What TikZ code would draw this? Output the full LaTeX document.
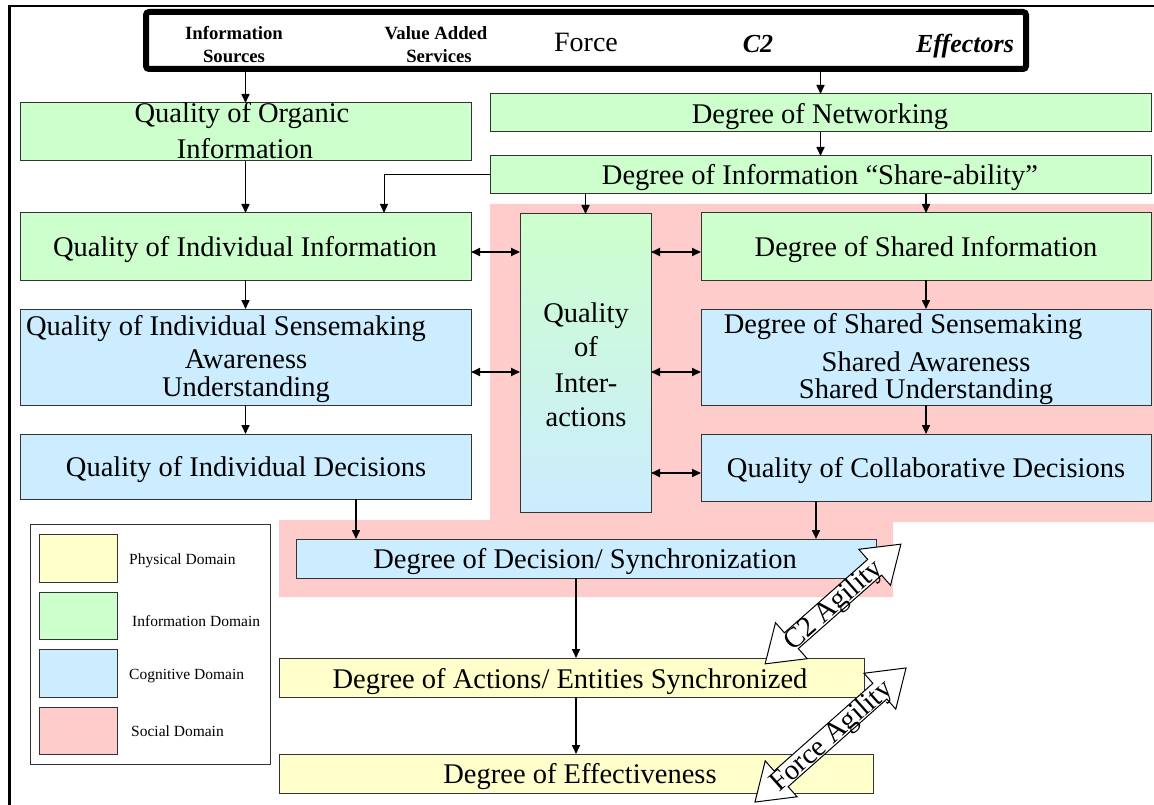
\documentclass[tikz,border=0pt]{standalone}
\usepackage{fontspec}
\setmainfont{Liberation Serif}[BoldFont={Liberation Serif Bold}, ItalicFont={Liberation Serif Italic}, BoldItalicFont={Liberation Serif Bold Italic}]
\usetikzlibrary{arrows.meta}
\definecolor{pgreen}{HTML}{CCFFCC}
\definecolor{pblue}{HTML}{CCECFF}
\definecolor{pyellow}{HTML}{FFFFCC}
\definecolor{ppink}{HTML}{FFCCCC}
\newcommand\bigf{\fontsize{28.5}{34}\selectfont}
\newcommand\legf{\fontsize{15.5}{18}\selectfont}
\newcommand\hdrf{\fontsize{18.7}{22}\selectfont\bfseries}
\tikzset{
  box/.style={draw=black!80, line width=1pt, inner sep=0pt, outer sep=0pt, anchor=north west},
  txt/.style={font=\bigf, inner sep=0pt, anchor=base},
  hdr/.style={font=\hdrf, inner sep=0pt, anchor=base},
  legtxt/.style={font=\legf, inner sep=0pt, anchor=base west},
  arr/.style={line width=1.6pt, -{Triangle[length=9pt,width=8pt]}},
  thinarr/.style={line width=1pt, -{Triangle[length=9pt,width=8pt]}},
  darr/.style={line width=1.8pt, {Triangle[length=9pt,width=8pt]}-{Triangle[length=9pt,width=8pt]}},
  agil/.style={draw=black, line width=1pt, fill=white, line join=miter},
}
\begin{document}
\begin{tikzpicture}[x=1pt,y=-1pt]
\useasboundingbox (0,0) rectangle (1154,805);
% outer frame (top and left sides)
\draw[line width=2.5pt] (8,6) -- (1154,6);
\draw[line width=3pt] (9.5,4.8) -- (9.5,805);
% social domain region
\fill[ppink] (490,204) -- (1154,204) -- (1154,522) -- (893,522) -- (893,597)
  -- (279,597) -- (279,520) -- (490,520) -- cycle;
% top bar
\node[draw=black, line width=6pt, rounded corners=3pt, inner sep=0pt, outer sep=0pt,
  anchor=north west, minimum width=880pt, minimum height=57pt] (bar) at (146,12) {};
\node[hdr] (is1) at (234,40) {Information};
\node[hdr] (is2) at (234,63) {Sources};
\node[hdr] (va1) at (436,40) {Value Added};
\node[hdr] (va2) at (439,63) {Services};
\node[txt, font=\fontsize{28}{32}\selectfont] (force) at (586,52) {Force};
\node[hdr, font=\fontsize{26}{30}\selectfont\bfseries\itshape] (c2) at (758,53) {C2};
\node[hdr, font=\fontsize{26}{30}\selectfont\bfseries\itshape] (eff) at (965,53) {Effectors};
% boxes
\node[box, fill=pgreen, minimum width=451pt, minimum height=58pt] (organic) at (20,103) {};
\node[box, fill=pgreen, minimum width=661pt, minimum height=38pt] (net) at (490,94) {};
\node[box, fill=pgreen, minimum width=661pt, minimum height=38pt] (share) at (490,156) {};
\node[box, fill=pgreen, minimum width=451pt, minimum height=67pt] (indinfo) at (20,213) {};
\node[box, fill=pblue, minimum width=451pt, minimum height=96pt] (sense) at (20,309) {};
\node[box, fill=pblue, minimum width=451pt, minimum height=65pt] (inddec) at (20,434) {};
\node[box, top color=pgreen, bottom color=pblue, minimum width=131pt, minimum height=298pt] (inter) at (520,214) {};
\node[box, fill=pgreen, minimum width=450pt, minimum height=67pt] (shinfo) at (701,213) {};
\node[box, fill=pblue, minimum width=450pt, minimum height=96pt] (shsense) at (701,309) {};
\node[box, fill=pblue, minimum width=450pt, minimum height=67pt] (collab) at (701,434) {};
\node[box, fill=pblue, minimum width=580pt, minimum height=39pt] (decision) at (296,539) {};
\node[box, fill=pyellow, minimum width=585pt, minimum height=39pt] (actions) at (279,658) {};
\node[box, fill=pyellow, minimum width=594pt, minimum height=39pt] (effect) at (279,754) {};
% box texts
\node[txt] (t1a) at (242,123) {Quality of Organic};
\node[txt] (t1b) at (245,159) {Information};
\node[txt] (t2) at (820,124) {Degree of Networking};
\node[txt] (t3) at (820,185) {Degree of Information “Share-ability”};
\node[txt] (t4) at (245,257) {Quality of Individual Information};
\node[txt] (t5a) at (226,335) {Quality of Individual Sensemaking};
\node[txt] (t5b) at (246,368) {Awareness};
\node[txt] (t5c) at (246,396) {Understanding};
\node[txt] (t6) at (246,476) {Quality of Individual Decisions};
\node[txt] (t7a) at (586,322) {Quality};
\node[txt] (t7b) at (586,356) {of};
\node[txt] (t7c) at (586,392) {Inter-};
\node[txt] (t7d) at (586,426) {actions};
\node[txt] (t8) at (926,257) {Degree of Shared Information};
\node[txt] (t9a) at (903,333) {Degree of Shared Sensemaking};
\node[txt] (t9b) at (926,371) {Shared Awareness};
\node[txt] (t9c) at (926,398) {Shared Understanding};
\node[txt] (t10) at (926,477) {Quality of Collaborative Decisions};
\node[txt] (t11) at (585,568) {Degree of Decision/ Synchronization};
\node[txt] (t12) at (570,688) {Degree of Actions/ Entities Synchronized};
\node[txt] (t13) at (580,783) {Degree of Effectiveness};
% legend
\node[box, fill=white, draw=black!80, minimum width=240pt, minimum height=240pt] (legend) at (30,524) {};
\node[box, fill=pyellow, minimum width=78pt, minimum height=48pt] (lg1) at (39,534) {};
\node[box, fill=pgreen, minimum width=78pt, minimum height=47pt] (lg2) at (39,592) {};
\node[box, fill=pblue, minimum width=78pt, minimum height=48pt] (lg3) at (39,649) {};
\node[box, fill=ppink, minimum width=78pt, minimum height=47pt] (lg4) at (39,707) {};
\node[legtxt] (l1) at (129,564) {Physical Domain};
\node[legtxt] (l2) at (132,626) {Information Domain};
\node[legtxt] (l3) at (129,679) {Cognitive Domain};
\node[legtxt] (l4) at (131,736) {Social Domain};
% helper coordinates
\coordinate (bendA) at (384,213);
\coordinate (d1) at (356,539);
\coordinate (d2) at (816,539);
\coordinate (a1) at (576,658);
\coordinate (r1) at (0,252);
\coordinate (r2) at (0,372);
\coordinate (r3) at (0,473);
% connectors
\draw[arr] (bar.south -| organic.north) -- (organic.north);
\draw[arr] (bar.south -| net.north) -- (net.north);
\draw[arr] (net.south) -- (share.north);
\draw[thinarr] (share.west) -| (bendA);
\draw[arr] (organic.south -| indinfo.north) -- (indinfo.north);
\draw[arr] (share.south -| inter.north) -- (inter.north);
\draw[arr] (share.south -| shinfo.north) -- (shinfo.north);
\draw[arr] (indinfo.south) -- (sense.north);
\draw[arr] (sense.south) -- (inddec.north);
\draw[arr] (shinfo.south) -- (shsense.north);
\draw[arr] (shsense.south) -- (collab.north);
\draw[arr] (inddec.south -| d1) -- (d1);
\draw[arr] (collab.south -| d2) -- (d2);
\draw[arr] (decision.south -| a1) -- (a1);
\draw[arr] (actions.south -| a1) -- (effect.north -| a1);
\draw[darr] (indinfo.east |- r1) -- (inter.west |- r1);
\draw[darr] (sense.east |- r2) -- (inter.west |- r2);
\draw[darr] (inter.east |- r1) -- (shinfo.west |- r1);
\draw[darr] (inter.east |- r2) -- (shsense.west |- r2);
\draw[darr] (inter.east |- r3) -- (collab.west |- r3);
% agility arrows
\begin{scope}[shift={(833,604)}, rotate=41.4]
\draw[agil] (90.5,0) -- (55.5,24) -- (55.5,10.5) -- (-55.5,10.5) -- (-55.5,24) -- (-90.5,0)
  -- (-55.5,-24) -- (-55.5,-10.5) -- (55.5,-10.5) -- (55.5,-24) -- cycle;
\end{scope}
\node[font=\bigf, inner sep=0pt, rotate=41.4] (c2ag) at (834,606) {C2 Agility};
\begin{scope}[shift={(830.5,735)}, rotate=41.6]
\draw[agil] (101,0) -- (66,24) -- (66,10.5) -- (-66,10.5) -- (-66,24) -- (-101,0)
  -- (-66,-24) -- (-66,-10.5) -- (66,-10.5) -- (66,-24) -- cycle;
\end{scope}
\node[font=\bigf, inner sep=0pt, rotate=41.6] (fag) at (832,737) {Force Agility};
\end{tikzpicture}
\end{document}
